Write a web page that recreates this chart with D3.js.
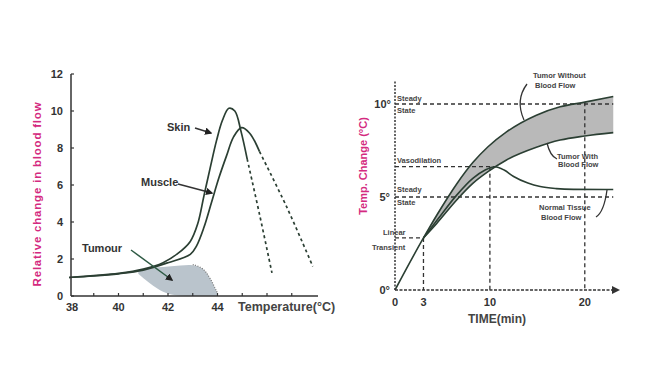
<!DOCTYPE html>
<html>
<head>
<meta charset="utf-8">
<script src="https://cdn.jsdelivr.net/npm/d3@7.9.0/dist/d3.min.js"></script>
<style>
  body { margin: 0; background: #fff; }
  svg { display: block; font-family: "Liberation Sans", Arial, sans-serif; }
</style>
</head>
<body>
<svg id="chart" width="650" height="387"></svg>
<script>
// left panel: relative change in blood flow vs temperature
const tempTicks = [38, 40, 42, 44];
const flowTicks = [0, 2, 4, 6, 8, 10, 12];
const skin = [[38, 1.0], [39, 1.1], [40, 1.22], [41, 1.45], [41.8, 1.8], [42.4, 2.3], [42.9, 2.95], [43.2, 3.9],
  [43.45, 5.4], [43.7, 6.9], [43.96, 8.4], [44.2, 9.5], [44.46, 10.15], [44.7, 10.0], [44.95, 8.9], [45.2, 7.4]];
const skinFall = [[45.2, 7.4], [45.7, 4.4], [46.2, 1.25]];
const muscle = [[38, 1.0], [39, 1.08], [40, 1.2], [41, 1.4], [42, 1.8], [42.9, 2.25], [43.15, 2.7], [43.45, 3.7],
  [43.76, 5.07], [44.06, 6.4], [44.36, 7.56], [44.65, 8.6], [44.97, 9.1], [45.3, 8.8], [45.7, 7.8]];
const muscleFall = [[45.7, 7.8], [46.8, 4.8], [47.85, 1.6]];
// tumour: [temp, top, bottom]
const tumour = [[40.8, 1.35, 1.2], [41.2, 1.5, 0.75], [41.6, 1.55, 0.35], [42, 1.6, 0.1], [42.5, 1.65, 0],
  [43, 1.7, 0], [43.4, 1.55, 0], [43.7, 1.0, 0], [44.0, 0.15, 0]];

// right panel: temperature change vs time
const timeTicks = [0, 3, 10, 20];
const degTicks = [0, 5, 10];
const noFlow = [[0, 0], [3, 2.8], [4.5, 4.1], [6.5, 5.7], [8.2, 6.85], [9.8, 7.7], [11.75, 8.5], [14.9, 9.4],
  [17.4, 9.85], [20, 10.1], [23, 10.4]];
const withFlow = [[3, 2.8], [4.4, 3.58], [6.5, 4.84], [8.2, 5.73], [9.8, 6.36], [11.75, 6.99], [14.9, 7.67],
  [17.4, 8.06], [20, 8.28], [23, 8.46]];
const normal = [[3, 2.8], [4.5, 3.8], [6.5, 5.1], [8.2, 6.0], [9.5, 6.45], [10.5, 6.63], [11.5, 6.45], [12.5, 6.1],
  [14, 5.75], [15.3, 5.56], [17, 5.45], [18.8, 5.41], [23, 5.4]];
const steadyHigh = 10, steadyLow = 5, vasodilation = 6.63, linearEnd = 2.8;

const svg = d3.select('#chart');
const ink = '#333';
const curveInk = '#2b3f33';
const pink = '#d42a80';

// ---------- left ----------
const x1 = d3.scaleLinear().domain([38, 48]).range([69, 316.5]);
const y1 = d3.scaleLinear().domain([0, 12]).range([296, 74]);
const g1 = svg.append('g');

g1.append('path')
  .attr('d', d3.area().x(d => x1(d[0])).y0(d => y1(d[2])).y1(d => y1(d[1])).curve(d3.curveBasis)(tumour))
  .attr('fill', '#bac4cc');
g1.append('path')
  .attr('d', d3.line().x(d => x1(d[0])).y(d => y1(d[1])).curve(d3.curveBasis)(tumour.slice(5)))
  .attr('fill', 'none').attr('stroke', '#777').attr('stroke-width', 1.2).attr('stroke-dasharray', '1,1.5');

const line1 = d3.line().x(d => x1(d[0])).y(d => y1(d[1])).curve(d3.curveCatmullRom);
[skin, muscle].forEach(s => {
  g1.append('path').attr('d', line1(s)).attr('fill', 'none')
    .attr('stroke', curveInk).attr('stroke-width', 1.7);
});
[skinFall, muscleFall].forEach(s => {
  g1.append('path').attr('d', line1(s)).attr('fill', 'none')
    .attr('stroke', curveInk).attr('stroke-width', 1.7).attr('stroke-dasharray', '3,3');
});

// axes
g1.append('line').attr('x1', 71).attr('x2', 71).attr('y1', y1(12)).attr('y2', 296)
  .attr('stroke', ink).attr('stroke-width', 1.5);
g1.append('line').attr('x1', 71).attr('x2', 318).attr('y1', 296).attr('y2', 296)
  .attr('stroke', ink).attr('stroke-width', 1.5);
g1.selectAll('.yt').data(flowTicks).join('line')
  .attr('x1', 71).attr('x2', 74).attr('y1', d => y1(d)).attr('y2', d => y1(d))
  .attr('stroke', ink).attr('stroke-width', 1.2);
g1.selectAll('.ytl').data(flowTicks).join('text')
  .attr('x', 63).attr('y', d => y1(d) + 4).attr('text-anchor', 'end')
  .attr('font-size', 11).attr('font-weight', 'bold').attr('fill', ink).text(d => d);
g1.selectAll('.xt').data(d3.range(39, 48)).join('line')
  .attr('x1', d => x1(d)).attr('x2', d => x1(d)).attr('y1', 296).attr('y2', 293)
  .attr('stroke', ink).attr('stroke-width', 1.2);
g1.selectAll('.xtl').data(tempTicks).join('text')
  .attr('x', d => x1(d) + (d === 38 ? 3 : 0)).attr('y', 311).attr('text-anchor', 'middle')
  .attr('font-size', 11).attr('font-weight', 'bold').attr('fill', ink).text(d => d);
g1.append('text').attr('x', 238).attr('y', 311).attr('font-size', 12.5).attr('font-weight', 'bold')
  .attr('fill', '#444').text('Temperature(°C)');
g1.append('text').attr('transform', 'translate(41,194) rotate(-90)').attr('text-anchor', 'middle')
  .attr('font-size', 11.5).attr('letter-spacing', 0.8).attr('font-weight', 'bold').attr('fill', pink)
  .text('Relative change in blood flow');

// callouts
const defs = svg.append('defs');
defs.append('marker').attr('id', 'ah').attr('viewBox', '0 0 10 10').attr('refX', 8).attr('refY', 5)
  .attr('markerWidth', 5).attr('markerHeight', 5).attr('orient', 'auto')
  .append('path').attr('d', 'M0,0L10,5L0,10z').attr('fill', '#222');
const callouts = [
  { text: 'Skin', tx: 167, ty: 131, a: [195, 128, 211, 133] },
  { text: 'Muscle', tx: 141, ty: 186, a: [178, 184, 212, 193] },
  { text: 'Tumour', tx: 82, ty: 252, a: [131, 250, 172, 280] }
];
callouts.forEach(c => {
  g1.append('text').attr('x', c.tx).attr('y', c.ty).attr('font-size', 11).attr('font-weight', 'bold')
    .attr('fill', '#333').text(c.text);
  g1.append('line').attr('x1', c.a[0]).attr('y1', c.a[1]).attr('x2', c.a[2]).attr('y2', c.a[3])
    .attr('stroke', c.text === 'Tumour' ? '#2e5a44' : '#333').attr('stroke-width', 1.5)
    .attr('marker-end', 'url(#ah)');
});

// ---------- right ----------
const x2 = d3.scaleLinear().domain([0, 23.5]).range([395, 618]);
const y2 = d3.scaleLinear().domain([0, 10]).range([290, 104]);
const g2 = svg.append('g');

// band between tumour curves
const band = withFlow.map((d, i) => [d[0], noFlow[i + 1][1], d[1]]);
g2.append('path')
  .attr('d', d3.area().x(d => x2(d[0])).y0(d => y2(d[2])).y1(d => y2(d[1])).curve(d3.curveMonotoneX)(band))
  .attr('fill', '#b9b9b9');

// dashed guides
const dash = (xa, ya, xb, yb) => g2.append('line')
  .attr('x1', x2(xa)).attr('y1', y2(ya)).attr('x2', x2(xb)).attr('y2', y2(yb))
  .attr('stroke', '#333').attr('stroke-width', 1.3).attr('stroke-dasharray', '4,3');
dash(0, steadyHigh, 23, steadyHigh);
dash(0, steadyLow, 23, steadyLow);
dash(0, vasodilation, 10.5, vasodilation);
dash(0, linearEnd, 3, linearEnd);
dash(3, linearEnd, 3, 0);
dash(10, vasodilation, 10, 0);
dash(20, 10.1, 20, 0);

const line2 = d3.line().x(d => x2(d[0])).y(d => y2(d[1])).curve(d3.curveMonotoneX);
[noFlow, withFlow, normal].forEach(s => {
  g2.append('path').attr('d', line2(s)).attr('fill', 'none')
    .attr('stroke', curveInk).attr('stroke-width', 1.6);
});

// axes
g2.append('line').attr('x1', 395).attr('x2', 395).attr('y1', 290).attr('y2', 80)
  .attr('stroke', ink).attr('stroke-width', 1.5).attr('stroke-dasharray', '2,1.5');
g2.append('line').attr('x1', 395).attr('x2', 616).attr('y1', 290).attr('y2', 290)
  .attr('stroke', ink).attr('stroke-width', 1.5).attr('stroke-dasharray', '3,1.5');
g2.append('path').attr('d', 'M612,286L620,290L612,294z').attr('fill', ink);

g2.selectAll('.dl').data(degTicks).join('text')
  .attr('x', d => d === 10 ? 391 : 390).attr('y', d => y2(d) + 4).attr('text-anchor', 'end')
  .attr('font-size', 11).attr('font-weight', 'bold').attr('fill', ink).text(d => d + '°');
g2.selectAll('.tl').data(timeTicks).join('text')
  .attr('x', d => x2(d)).attr('y', 306).attr('text-anchor', 'middle')
  .attr('font-size', 11).attr('font-weight', 'bold').attr('fill', ink).text(d => d);
g2.append('text').attr('x', 497).attr('y', 323).attr('text-anchor', 'middle')
  .attr('font-size', 12).attr('font-weight', 'bold').attr('fill', '#444').text('TIME(min)');
g2.append('text').attr('transform', 'translate(367,166) rotate(-90)').attr('text-anchor', 'middle')
  .attr('font-size', 11).attr('font-weight', 'bold').attr('fill', pink).text('Temp. Change (°C)');

// small notes
const notes = [
  ['Steady', 397, 101], ['State', 397, 113],
  ['Vasodilation', 397, 163],
  ['Steady', 397, 192], ['State', 397, 205],
  ['Linear', 383, 235], ['Transient', 372, 250],
  ['Tumor Without', 533, 78], ['Blood Flow', 535, 88],
  ['Tumor With', 557, 159], ['Blood Flow', 558, 167],
  ['Normal Tissue', 539, 210], ['Blood Flow', 541, 220]
];
g2.selectAll('.nt').data(notes).join('text')
  .attr('x', d => d[1]).attr('y', d => d[2]).attr('font-size', 7.5).attr('font-weight', 'bold')
  .attr('fill', '#444').text(d => d[0]);

// leaders
const leaders = ['M527,84 Q515,100 524,120', 'M547,143 Q550,156 557,159', 'M607,190 Q604,212 596,217'];
leaders.forEach(p => g2.append('path').attr('d', p).attr('fill', 'none')
  .attr('stroke', '#333').attr('stroke-width', 1.3));
</script>
</body>
</html>
